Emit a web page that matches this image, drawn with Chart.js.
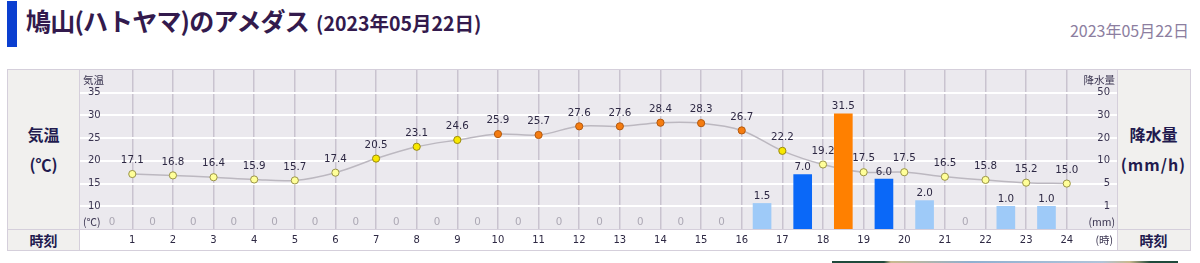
<!DOCTYPE html>
<html><head><meta charset="utf-8">
<script src="https://cdn.jsdelivr.net/npm/chart.js@4/dist/chart.umd.min.js"></script>
<style>
html,body{margin:0;padding:0;background:#fff;width:1200px;height:263px;overflow:hidden;font-family:"Noto Sans CJK JP",sans-serif}
#bar{position:absolute;left:7px;top:1px;width:10px;height:46px;background:#0b3fd0}
#title{position:absolute;left:26px;top:8px;font-size:25px;line-height:25px;font-weight:bold;color:#331a4d;letter-spacing:-0.8px;white-space:nowrap}
#title span{font-size:19.5px;letter-spacing:0;margin-left:7px}
#date{position:absolute;right:11px;top:22px;font-size:16px;line-height:16px;color:#8c7ea0;white-space:nowrap}
#tbl{position:absolute;left:7px;top:69px;width:1182px;height:180px;border:1px solid #d5cfdb;background:#f1f0ee}
#wrap{position:absolute;left:71px;top:0;width:1037px;height:180px;border-left:1px solid #d5cfdb;border-right:1px solid #d5cfdb;background:#fff}
#sep{position:absolute;left:0;top:159px;width:1182px;height:1px;background:#d5cfdb;z-index:3}
.lbl{position:absolute;width:71px;text-align:center;font-weight:bold;color:#221a4e;white-space:nowrap}
#strip{position:absolute;left:832px;top:261px;width:346px;height:2px;background:linear-gradient(90deg,#1f4a3c 0,#1f4a3c 15%,#c9b98e 17%,#8fb0d0 40%,#b0c4da 78%,#c9b98e 86%,#1f4a3c 92%,#1f4a3c 100%)}
</style></head>
<body>
<div id="bar"></div>
<div id="title">鳩山(ハトヤマ)のアメダス<span>(2023年05月22日)</span></div>
<div id="date">2023年05月22日</div>
<div id="tbl">
  <div class="lbl" style="left:0;top:56px;font-size:16px;line-height:16px">気温</div>
  <div class="lbl" style="left:0;top:86px;font-size:16px;line-height:16px">(℃)</div>
  <div class="lbl" style="left:1110px;top:56px;font-size:16px;line-height:16px">降水量</div>
  <div class="lbl" style="left:1110px;top:86px;font-size:16px;line-height:16px;letter-spacing:1px">(mm/h)</div>
  <div class="lbl" style="left:0;top:163px;font-size:14px;line-height:14px">時刻</div>
  <div class="lbl" style="left:1110px;top:163px;font-size:14px;line-height:14px">時刻</div>
  <div id="wrap"><canvas id="c" width="1037" height="180"></canvas></div>
  <div id="sep"></div>
</div>
<div id="strip"></div>
<script>
const hours = [1,2,3,4,5,6,7,8,9,10,11,12,13,14,15,16,17,18,19,20,21,22,23,24];
const temps = [17.1,16.8,16.4,15.9,15.7,17.4,20.5,23.1,24.6,25.9,25.7,27.6,27.6,28.4,28.3,26.7,22.2,19.2,17.5,17.5,16.5,15.8,15.2,15.0];
const rain = [0,0,0,0,0,0,0,0,0,0,0,0,0,0,0,0,1.5,7.0,31.5,6.0,2.0,0,1.0,1.0];
const tempTicks = [10,15,20,25,30,35];
const rainTicks = [1,5,10,20,30,50];
const rainBreaks = [0,1,5,10,20,30,50,80];

function rainIndex(v){
  for(let i=1;i<rainBreaks.length;i++){
    if(v<=rainBreaks[i]) return i-1+(v-rainBreaks[i-1])/(rainBreaks[i]-rainBreaks[i-1]);
  }
  return rainBreaks.length-1;
}
class PiecewiseScale extends Chart.LinearScale {
  getPixelForValue(v){ return this.getPixelForDecimal(rainIndex(v)/(rainBreaks.length-1)); }
}
PiecewiseScale.id='piecewise';
PiecewiseScale.defaults=Chart.LinearScale.defaults;
Chart.register(PiecewiseScale);

function tempColor(v){ return v<20?'#ffff99':(v<25?'#f8e800':'#f57c10'); }
function tempBorder(v){ return v<20?'#9a9448':(v<25?'#9a8a10':'#b35a10'); }
function rainColor(v){ return v<=0?'rgba(0,0,0,0)':(v<5?'#9ecaf8':(v<10?'#0a68f8':(v<20?'#0040ff':(v<30?'#f5e800':(v<50?'#ff8000':'#ff2800'))))); }

const bgPlugin={id:'bg',beforeDraw(chart){const a=chart.chartArea,c=chart.ctx;c.save();c.fillStyle='#ebe9ee';c.fillRect(a.left,a.top,a.right-a.left,a.bottom-a.top);c.restore();}};
const labelPlugin={id:'lbls',afterDraw(chart){
  const c=chart.ctx,a=chart.chartArea;
  c.save();
  c.font='10.3px "DejaVu Sans"';c.textAlign='center';c.textBaseline='middle';
  chart.getDatasetMeta(0).data.forEach((el,i)=>{
    const v=rain[i];
    if(v===0){c.fillStyle='#aca8b4';c.fillText('0',el.x,a.bottom-6.5);}
    else{c.fillStyle='#2d2843';c.fillText(v.toFixed(1),el.x,el.y-7);}
  });
  chart.getDatasetMeta(1).data.forEach((el,i)=>{c.fillStyle='#2d2843';c.fillText(temps[i].toFixed(1),el.x,el.y-13.5);});
  c.font='10.5px "Noto Sans CJK JP"';c.fillStyle='#3a3450';
  c.textAlign='left';c.fillText('気温',a.left+3,a.top+10);c.fillText('(℃)',a.left+3,a.bottom-6.5);
  c.textAlign='right';c.fillText('降水量',a.right-2,a.top+10);c.fillText('(mm)',a.right-2,a.bottom-6.5);
  c.fillText('(時)',a.right-4,a.bottom+11.5);
  c.restore();
}};

new Chart(document.getElementById('c'),{
  type:'line',
  data:{datasets:[
    {type:'bar',label:'降水量',yAxisID:'y2',xAxisID:'x',
     data:hours.map((h,i)=>({x:h-0.5,y:rain[i]})),
     backgroundColor:rain.map(rainColor),barThickness:18,grouped:false,order:0},
    {type:'line',label:'気温',yAxisID:'y',xAxisID:'x',
     data:hours.map((h,i)=>({x:h,y:temps[i]})),
     borderColor:'#bcb8c0',borderWidth:1.5,tension:0.35,fill:false,
     pointRadius:3.6,pointBorderWidth:1,
     pointBackgroundColor:temps.map(tempColor),pointBorderColor:temps.map(tempBorder),order:1}
  ]},
  options:{
    responsive:false,animation:false,events:[],
    layout:{padding:0,autoPadding:false},
    plugins:{legend:{display:false},tooltip:{enabled:false}},
    scales:{
      x:{type:'linear',min:-0.287,max:25.236,offset:false,
         grid:{offset:false,color:'#c9c3cf',lineWidth:1.5,drawTicks:false},border:{display:false},
         afterBuildTicks:s=>{s.ticks=hours.map(v=>({value:v}));},
         afterFit:s=>{s.height=21;s.paddingLeft=0;s.paddingRight=0;},
         ticks:{autoSkip:false,maxRotation:0,padding:5,color:'#2d2843',font:{family:'DejaVu Sans',size:10},callback:v=>String(v)}},
      y:{type:'linear',position:'left',min:5,max:40,
         grid:{color:'#ffffff',lineWidth:2,drawTicks:false,z:-1},border:{display:false},
         afterBuildTicks:s=>{s.ticks=tempTicks.map(v=>({value:v}));},
         afterFit:s=>{s.width=0;s.paddingTop=0;s.paddingBottom=0;},
         ticks:{mirror:true,padding:8,color:'#3a3450',font:{family:'DejaVu Sans',size:10},callback:v=>String(v)}},
      y2:{type:'piecewise',position:'right',min:0,max:80,
         grid:{display:false,drawTicks:false},border:{display:false},
         afterBuildTicks:s=>{s.ticks=rainTicks.map(v=>({value:v}));},
         afterFit:s=>{s.width=0;s.paddingTop=0;s.paddingBottom=0;},
         ticks:{mirror:true,padding:-7,color:'#3a3450',font:{family:'DejaVu Sans',size:10},callback:v=>String(v)}}
    }
  },
  plugins:[bgPlugin,labelPlugin]
});
</script>
</body></html>
